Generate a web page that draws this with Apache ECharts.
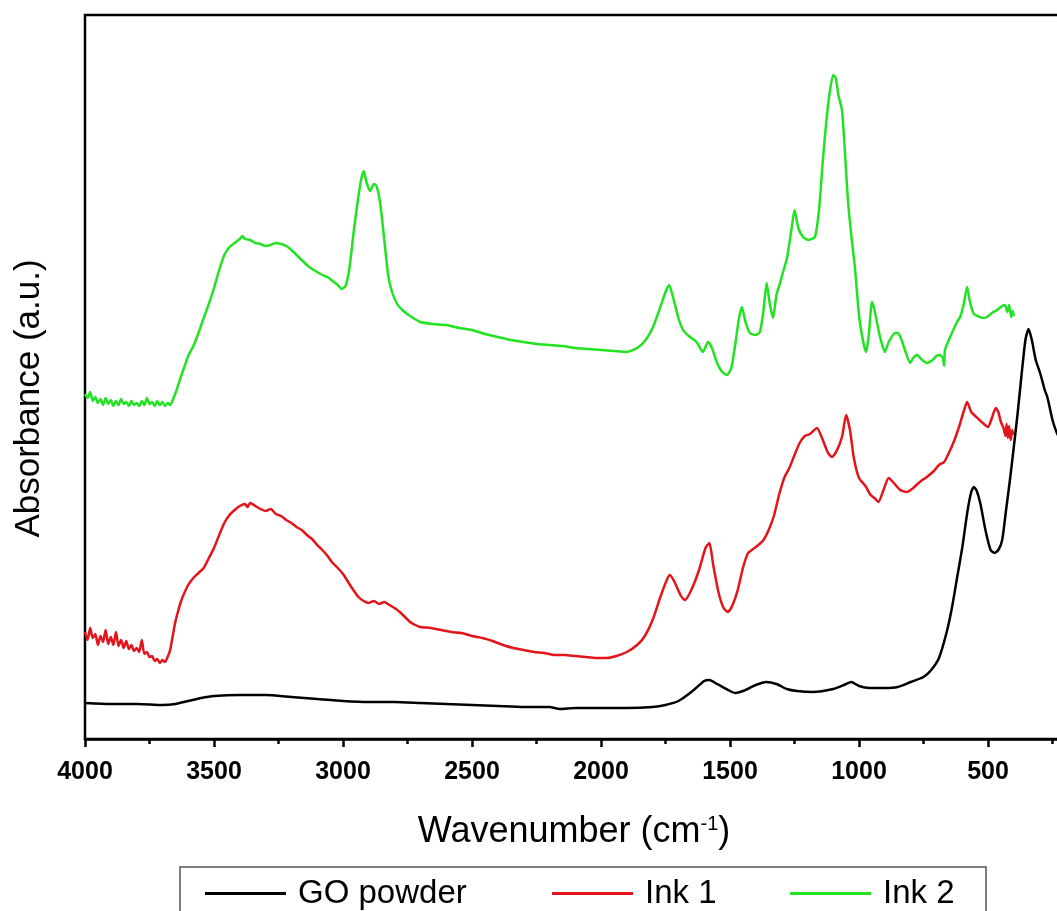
<!DOCTYPE html>
<html>
<head>
<meta charset="utf-8">
<title>FTIR spectra</title>
<script src="https://cdn.jsdelivr.net/npm/echarts@6.0.0/dist/echarts.min.js"></script>
<style>
  html, body { margin: 0; padding: 0; background: #fff; }
  #chart { width: 1057px; height: 911px; }
</style>
</head>
<body>
<div id="chart"></div>
<script>
// FTIR absorbance spectra (arbitrary units, curves vertically offset)
const seriesNames = ['GO powder', 'Ink 1', 'Ink 2'];
const xTicks = [4000, 3500, 3000, 2500, 2000, 1500, 1000, 500];

const goWn = [4000, 3900, 3800, 3700, 3650, 3600, 3550, 3500, 3400, 3350, 3300, 3200, 3100, 3000, 2900, 2800, 2700, 2600, 2500, 2400, 2300, 2200, 2160, 2100, 2000, 1900, 1800, 1750, 1700, 1650, 1600, 1580, 1550, 1500, 1480, 1450, 1400, 1360, 1320, 1280, 1240, 1180, 1100, 1050, 1030, 1000, 960, 900, 850, 800, 750, 720, 690, 660, 640, 620, 600, 580, 565, 555, 545, 530, 510, 490, 475, 460, 445, 430, 415, 400, 385, 370, 355, 343, 330, 315, 298, 280, 270, 250, 233, 210, 200];
const goAbs = [3.6, 3.5, 3.5, 3.4, 3.5, 3.8, 4.1, 4.3, 4.4, 4.4, 4.4, 4.2, 4.0, 3.8, 3.7, 3.7, 3.6, 3.5, 3.4, 3.3, 3.2, 3.2, 3.0, 3.1, 3.1, 3.1, 3.2, 3.4, 3.8, 4.7, 5.8, 5.9, 5.5, 4.8, 4.6, 4.8, 5.4, 5.7, 5.5, 5.0, 4.8, 4.7, 5.0, 5.5, 5.7, 5.3, 5.1, 5.1, 5.2, 5.7, 6.2, 6.9, 8.1, 10.7, 13.1, 16.1, 19.1, 22.7, 24.7, 25.2, 24.9, 23.6, 20.9, 18.9, 18.6, 18.9, 19.9, 22.9, 25.9, 29.2, 32.6, 36.4, 39.9, 41.0, 39.9, 37.9, 36.6, 34.9, 34.2, 31.9, 30.6, 29.4, 28.9];

const ink1Wn = [4000, 3990, 3980, 3970, 3960, 3950, 3940, 3930, 3920, 3910, 3900, 3890, 3880, 3870, 3860, 3850, 3840, 3830, 3820, 3810, 3800, 3790, 3780, 3770, 3760, 3750, 3740, 3730, 3720, 3710, 3700, 3690, 3680, 3670, 3660, 3650, 3640, 3630, 3620, 3600, 3580, 3560, 3540, 3520, 3500, 3480, 3460, 3440, 3420, 3400, 3380, 3370, 3360, 3340, 3320, 3300, 3280, 3260, 3240, 3220, 3200, 3180, 3160, 3140, 3120, 3100, 3080, 3060, 3040, 3020, 3000, 2980, 2960, 2940, 2920, 2900, 2880, 2860, 2840, 2820, 2800, 2780, 2760, 2740, 2720, 2700, 2660, 2620, 2580, 2540, 2500, 2460, 2420, 2380, 2340, 2300, 2260, 2220, 2180, 2140, 2100, 2060, 2020, 1980, 1940, 1900, 1860, 1830, 1800, 1770, 1745, 1733, 1715, 1690, 1675, 1650, 1620, 1595, 1580, 1565, 1545, 1525, 1508, 1490, 1470, 1450, 1430, 1410, 1390, 1370, 1350, 1330, 1310, 1290, 1270, 1250, 1230, 1210, 1190, 1163, 1145, 1120, 1105, 1085, 1065, 1050, 1035, 1020, 1000, 975, 955, 940, 925, 905, 885, 865, 840, 815, 790, 760, 737, 710, 690, 670, 650, 630, 610, 595, 581, 565, 545, 520, 500, 485, 470, 460, 450, 440, 432, 428, 423, 418, 412, 406, 402];
const ink1Abs = [10.7, 9.9, 11.1, 10.1, 10.5, 9.4, 10.3, 9.7, 10.9, 9.5, 10.2, 9.4, 10.7, 9.3, 9.9, 9.1, 9.8, 9.0, 9.4, 8.8, 9.1, 8.7, 9.9, 8.5, 8.7, 8.2, 8.3, 7.8, 8.0, 7.6, 7.9, 7.7, 8.2, 8.9, 10.3, 11.7, 12.7, 13.6, 14.3, 15.4, 16.1, 16.6, 17.1, 18.1, 19.1, 20.4, 21.6, 22.4, 22.9, 23.3, 23.5, 23.2, 23.6, 23.3, 23.0, 22.8, 23.0, 22.5, 22.3, 21.9, 21.6, 21.2, 20.9, 20.4, 20.0, 19.4, 18.9, 18.3, 17.6, 17.1, 16.5, 15.7, 14.9, 14.2, 13.8, 13.6, 13.8, 13.5, 13.7, 13.4, 13.1, 12.7, 12.2, 11.7, 11.4, 11.2, 11.1, 10.9, 10.7, 10.6, 10.3, 10.1, 9.8, 9.4, 9.1, 8.9, 8.7, 8.6, 8.4, 8.4, 8.3, 8.2, 8.1, 8.1, 8.3, 8.7, 9.4, 10.3, 11.9, 14.2, 15.9, 16.4, 15.7, 14.3, 13.9, 14.9, 16.9, 19.1, 19.6, 17.4, 14.7, 13.1, 12.7, 13.4, 14.9, 17.1, 18.6, 19.0, 19.4, 19.9, 20.9, 22.3, 24.4, 26.1, 27.1, 28.4, 29.6, 30.3, 30.5, 31.1, 30.2, 28.6, 28.2, 28.9, 30.3, 32.4, 30.9, 28.1, 26.1, 25.3, 24.4, 24.1, 23.7, 24.9, 26.1, 25.6, 24.9, 24.7, 25.1, 25.8, 26.2, 26.8, 27.4, 27.7, 28.7, 29.9, 31.4, 32.7, 33.7, 32.7, 32.2, 31.6, 31.2, 32.1, 33.1, 32.7, 31.7, 31.1, 30.3, 31.5, 30.1, 31.3, 29.9, 30.9, 30.4];

const ink2Wn = [4000, 3990, 3980, 3970, 3960, 3950, 3940, 3930, 3920, 3910, 3900, 3890, 3880, 3870, 3860, 3850, 3840, 3830, 3820, 3810, 3800, 3790, 3780, 3770, 3760, 3750, 3740, 3730, 3720, 3710, 3700, 3690, 3680, 3670, 3660, 3645, 3630, 3615, 3600, 3580, 3560, 3540, 3520, 3500, 3480, 3460, 3440, 3420, 3400, 3390, 3380, 3360, 3340, 3320, 3300, 3280, 3260, 3240, 3220, 3200, 3180, 3160, 3140, 3120, 3100, 3080, 3060, 3040, 3020, 3005, 2990, 2975, 2960, 2945, 2930, 2920, 2908, 2895, 2880, 2870, 2855, 2840, 2825, 2810, 2790, 2770, 2740, 2700, 2650, 2600, 2550, 2500, 2450, 2400, 2350, 2300, 2250, 2200, 2150, 2100, 2050, 2000, 1950, 1900, 1860, 1830, 1800, 1770, 1750, 1736, 1720, 1700, 1682, 1660, 1630, 1605, 1585, 1570, 1550, 1530, 1512, 1495, 1480, 1465, 1454, 1440, 1423, 1400, 1384, 1370, 1358, 1345, 1333, 1320, 1306, 1290, 1279, 1262, 1250, 1235, 1217, 1195, 1171, 1155, 1140, 1128, 1115, 1100, 1090, 1080, 1066, 1055, 1043, 1030, 1016, 1000, 985, 973, 962, 950, 940, 922, 910, 900, 885, 860, 849, 835, 822, 802, 790, 775, 755, 737, 715, 700, 686, 675, 670, 667, 655, 640, 620, 608, 595, 581, 570, 555, 540, 520, 504, 485, 465, 445, 434, 425, 418, 410, 404, 400];
const ink2Abs = [34.5, 34.1, 34.7, 33.8, 34.2, 33.6, 34.0, 33.4, 34.1, 33.5, 33.9, 33.3, 33.8, 33.4, 34.0, 33.5, 33.7, 33.3, 33.8, 33.4, 33.6, 33.3, 33.8, 33.4, 34.1, 33.5, 33.7, 33.3, 33.8, 33.4, 33.7, 33.3, 33.6, 33.4, 33.9, 34.9, 36.1, 37.2, 38.3, 39.3, 40.6, 42.1, 43.5, 45.1, 46.9, 48.4, 49.2, 49.6, 50.0, 50.3, 50.0, 49.9, 49.6, 49.5, 49.3, 49.4, 49.6, 49.5, 49.3, 48.9, 48.4, 47.9, 47.4, 47.0, 46.7, 46.4, 46.2, 45.8, 45.4, 45.0, 45.3, 47.1, 50.4, 53.4, 55.9, 56.8, 55.6, 54.8, 55.5, 55.3, 53.4, 49.9, 46.4, 44.7, 43.5, 42.9, 42.3, 41.7, 41.5, 41.4, 41.1, 40.9, 40.5, 40.2, 39.9, 39.7, 39.5, 39.4, 39.3, 39.1, 39.0, 38.9, 38.8, 38.7, 39.1, 39.8, 41.1, 43.2, 44.7, 45.4, 44.1, 42.1, 40.9, 40.3, 39.7, 38.7, 39.7, 39.1, 37.6, 36.7, 36.4, 37.1, 39.4, 42.1, 43.2, 41.7, 40.6, 40.4, 40.7, 42.9, 45.6, 43.4, 42.1, 44.4, 45.6, 47.1, 48.1, 50.9, 52.9, 51.1, 50.2, 49.9, 50.2, 52.9, 57.9, 61.4, 64.4, 66.4, 66.1, 64.4, 62.9, 58.9, 53.9, 50.4, 47.2, 42.4, 39.9, 38.7, 40.4, 43.7, 42.9, 40.6, 39.4, 38.7, 39.7, 40.6, 40.6, 39.9, 38.9, 37.6, 38.1, 38.4, 37.9, 37.6, 37.9, 38.3, 38.4, 38.1, 37.3, 38.9, 39.7, 40.6, 41.7, 42.2, 43.4, 45.2, 43.7, 42.5, 42.3, 42.1, 42.2, 42.6, 42.9, 43.3, 43.4, 42.7, 43.4, 42.2, 42.8, 42.3];

const colors = ['#000000', '#e3141a', '#22e322'];
const pairs = (xs, ys) => xs.map((x, i) => [x, ys[i]]);
const FONT = '"Liberation Sans", Arial, sans-serif';

const chart = echarts.init(document.getElementById('chart'), null, { renderer: 'canvas' });

const legendCommon = {
  orient: 'horizontal',
  top: 877,
  padding: 0,
  itemGap: 0,
  itemWidth: 81,
  itemHeight: 3,
  icon: 'rect',
  selectedMode: false,
  textStyle: { fontFamily: FONT, fontSize: 33, color: '#000', padding: [0, 0, 0, 7] }
};

chart.setOption({
  animation: false,
  backgroundColor: '#fff',
  color: colors,
  grid: {
    left: 85, top: 15, width: 1032, height: 724,
    outerBoundsMode: 'none',
    containLabel: false,
    show: true, borderColor: '#000', borderWidth: 2.5, backgroundColor: 'transparent'
  },
  legend: [
    Object.assign({}, legendCommon, { data: [seriesNames[0]], left: 205 }),
    Object.assign({}, legendCommon, { data: [seriesNames[1]], left: 552 }),
    Object.assign({}, legendCommon, { data: [seriesNames[2]], left: 790 })
  ],
  graphic: [{
    type: 'rect',
    shape: { x: 180, y: 867, width: 806, height: 90 },
    style: { fill: 'none', stroke: '#555', lineWidth: 1.5 },
    silent: true
  }],
  xAxis: {
    type: 'value',
    min: 0, max: 4000, interval: 500, inverse: true,
    name: 'Wavenumber (cm{sup|-1})',
    nameLocation: 'middle',
    nameGap: 75,
    nameTextStyle: {
      fontFamily: FONT, fontSize: 36, color: '#000', padding: [0, 54, 0, 0],
      rich: { sup: { fontFamily: FONT, fontSize: 20, color: '#000', padding: [0, 0, 17, 0] } }
    },
    axisLine: { show: true, lineStyle: { color: '#000', width: 2.5 } },
    axisTick: { show: true, inside: false, length: 8, lineStyle: { color: '#000', width: 2.5 } },
    minorTick: { show: true, splitNumber: 2, length: 5, lineStyle: { color: '#000', width: 2.5 } },
    axisLabel: {
      margin: 21, fontFamily: FONT, fontSize: 25, fontWeight: 'bold', color: '#000',
      formatter: v => (xTicks.indexOf(v) >= 0 ? String(v) : '')
    },
    splitLine: { show: false },
    minorSplitLine: { show: false }
  },
  yAxis: {
    type: 'value',
    min: 0, max: 72.4,
    name: 'Absorbance (a.u.)',
    nameLocation: 'middle',
    nameGap: 38,
    nameTextStyle: { fontFamily: FONT, fontSize: 35, color: '#000', padding: [0, 43, 0, 0] },
    axisLine: { show: true, lineStyle: { color: '#000', width: 2.5 } },
    axisTick: { show: false },
    axisLabel: { show: false },
    splitLine: { show: false }
  },
  series: [
    { name: seriesNames[2], type: 'line', data: pairs(ink2Wn, ink2Abs), showSymbol: false, smooth: 0.2,
      lineStyle: { width: 2.5, color: colors[2] }, itemStyle: { color: colors[2] }, z: 2 },
    { name: seriesNames[1], type: 'line', data: pairs(ink1Wn, ink1Abs), showSymbol: false, smooth: 0.2,
      lineStyle: { width: 2.5, color: colors[1] }, itemStyle: { color: colors[1] }, z: 3 },
    { name: seriesNames[0], type: 'line', data: pairs(goWn, goAbs), showSymbol: false, smooth: 0.2,
      lineStyle: { width: 2.5, color: colors[0] }, itemStyle: { color: colors[0] }, z: 4 }
  ]
});
</script>
</body>
</html>
